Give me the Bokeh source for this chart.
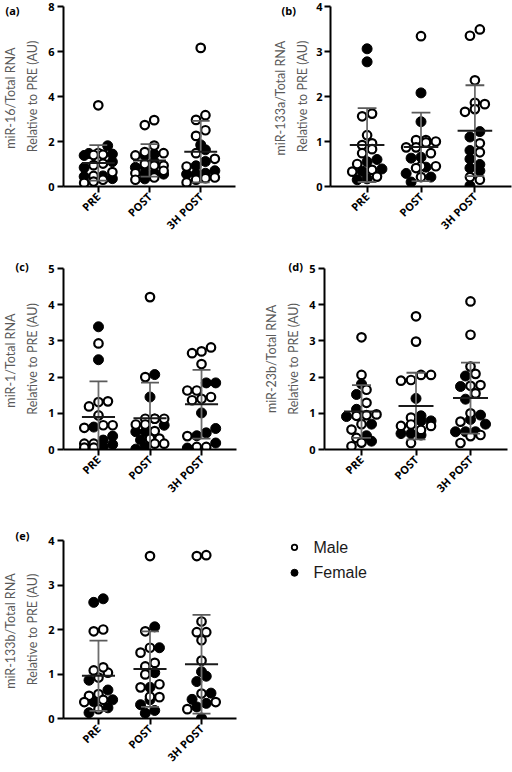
import math
import numpy as np
from bokeh.plotting import figure
from bokeh.layouts import column, row
from bokeh.models import Range1d, FixedTicker, Label
from bokeh.embed import file_html
from bokeh.resources import INLINE
from bokeh.core.properties import value

GROUPS = ["PRE", "POST", "3H POST"]

# (a) miR-16
A_PRE_MALE = [3.61, 1.49, 1.40, 1.42, 1.02, 0.95, 0.64, 0.47, 0.22, 0.30, 0.16]
A_PRE_FEMALE = [1.81, 1.44, 1.47, 1.38, 1.10, 0.84, 0.47, 0.44, 0.35]
A_POST_MALE = [2.95, 2.73, 1.82, 1.53, 1.48, 1.38, 1.00, 0.93, 0.93, 0.59, 0.70, 0.40, 0.30]
A_POST_FEMALE = [1.44, 1.38, 1.10, 0.89, 0.85, 0.59, 0.59, 0.55, 0.34]
A_3H_MALE = [6.16, 3.17, 2.96, 2.50, 2.25, 1.48, 1.23, 0.89, 0.37, 0.40, 0.18, 0.30]
A_3H_FEMALE = [1.85, 1.63, 1.11, 0.92, 0.59, 0.55, 0.55, 0.70]
A_MEAN = [1.05, 1.16, 1.55]
A_SD = [0.79, 0.72, 1.37]

# (b) miR-133a
B_PRE_MALE = [1.56, 1.62, 1.14, 0.96, 0.92, 0.83, 0.74, 0.50, 0.33, 0.37, 0.22]
B_PRE_FEMALE = [3.06, 2.77, 0.60, 0.55, 0.39, 0.34, 0.15, 0.17]
B_POST_MALE = [3.34, 1.00, 1.03, 1.03, 0.98, 0.87, 0.87, 0.74, 0.45, 0.45, 0.41, 0.21]
B_POST_FEMALE = [2.08, 1.44, 0.63, 0.65, 0.43, 0.29, 0.21, 0.10]
B_3H_MALE = [3.35, 3.49, 2.36, 1.83, 1.66, 1.86, 1.72, 0.96, 0.76, 0.21, 0.15]
B_3H_FEMALE = [1.22, 0.80, 1.10, 0.61, 0.41, 0.49, 0.02, 0.35]
B_MEAN = [0.92, 0.88, 1.24]
B_SD = [0.82, 0.76, 1.01]

# (c) miR-1
C_PRE_MALE = [2.93, 1.33, 1.31, 1.19, 0.94, 0.67, 0.67, 0.60, 0.16, 0.16, 0.05, 0.05]
C_PRE_FEMALE = [3.39, 2.48, 0.62, 0.37, 0.26, 0.14, 0.07]
C_POST_MALE = [4.21, 2.00, 0.85, 0.85, 0.85, 0.85, 0.69, 0.69, 0.51, 0.30, 0.30, 0.16, 0.16]
C_POST_FEMALE = [2.07, 1.45, 0.67, 0.49, 0.49, 0.26, 0.07, 0.01]
C_3H_MALE = [2.71, 2.66, 2.82, 2.36, 1.36, 1.40, 1.63, 1.63, 1.45, 0.37, 0.07, 0.07]
C_3H_FEMALE = [1.84, 1.84, 1.01, 0.58, 0.46, 0.38, 0.18, 0.04]
C_MEAN = [0.90, 0.86, 1.25]
C_SD = [0.98, 0.99, 0.95]

# (d) miR-23b
D_PRE_MALE = [3.10, 2.06, 1.65, 1.29, 0.95, 0.97, 0.93, 0.70, 0.55, 0.32, 0.19, 0.09]
D_PRE_FEMALE = [1.81, 1.52, 1.11, 0.91, 0.70, 0.38, 0.23]
D_POST_MALE = [3.68, 2.98, 2.06, 2.06, 1.90, 1.92, 0.88, 0.54, 0.69, 0.65, 0.65, 0.18]
D_POST_FEMALE = [1.41, 0.79, 0.93, 0.79, 0.44, 0.40, 0.44]
D_3H_MALE = [4.09, 3.17, 2.29, 2.09, 1.78, 1.76, 1.55, 1.00, 0.77, 0.40, 0.37, 0.18]
D_3H_FEMALE = [2.03, 1.74, 1.39, 0.70, 0.83, 0.95, 0.49, 0.49, 0.49]
D_MEAN = [1.05, 1.20, 1.42]
D_SD = [0.73, 0.92, 0.98]

# (e) miR-133b
E_PRE_MALE = [1.96, 2.00, 1.03, 1.15, 1.08, 0.92, 0.51, 0.55, 0.37, 0.42, 0.21]
E_PRE_FEMALE = [2.61, 2.69, 0.86, 0.64, 0.42, 0.38, 0.13, 0.24]
E_POST_MALE = [3.65, 1.96, 1.59, 1.48, 1.25, 1.17, 0.99, 0.77, 0.70, 0.48, 0.49]
E_POST_FEMALE = [2.06, 1.59, 1.03, 0.70, 0.31, 0.42, 0.18, 0.12]
E_3H_MALE = [3.65, 3.67, 2.18, 1.94, 1.94, 1.76, 1.30, 0.56, 0.37, 0.21]
E_3H_FEMALE = [1.05, 0.95, 0.83, 0.57, 0.34, 0.43, 0.26, 0.01]
E_MEAN = [0.96, 1.11, 1.22]
E_SD = [0.79, 0.85, 1.11]

YLABELS = [
    "miR-16/Total  RNA\nRelative to PRE (AU)",
    "miR-133a/Total  RNA\nRelative to PRE (AU)",
    "miR-1/Total  RNA\nRelative to PRE (AU)",
    "miR-23b/Total RNA\nRelative to PRE (AU)",
    "miR-133b/Total  RNA\nRelative to PRE (AU)",
]

LEGEND_LABELS = ["Male", "Female"]

# layout constants (pixels)
PX_PER_GROUP = 54.5
FRAME_W = 183
X0 = -37.0 / PX_PER_GROUP
X1 = X0 + FRAME_W / PX_PER_GROUP
DOT = 10.0
ROW_H = 8.0
ROW_MAX = 4


def row_offsets(vals, px_per_unit):
    """Column-scatter layout: close values share a row, centred on the group."""
    vals = np.asarray(vals, dtype=float)
    order = list(np.argsort(vals, kind="stable"))
    offs = np.zeros(len(vals))
    rows, cur = [], []
    for i in order:
        if cur and (len(cur) >= ROW_MAX or (vals[i] - vals[cur[0]]) * px_per_unit >= ROW_H):
            rows.append(cur)
            cur = []
        cur.append(i)
    if cur:
        rows.append(cur)
    for r in rows:
        n = len(r)
        for k, i in enumerate(r):
            offs[i] = (k - (n - 1) / 2.0) * DOT
    return offs


def panel(letter, letter_pos, letter_side, ylabel, ymax, males, females, means, sds,
          width, height, left, top, frame_h, label_standoff=5, tick_standoff=3):
    bottom = height - top - frame_h
    right = width - left - FRAME_W
    p = figure(width=width, height=height, output_backend="svg", toolbar_location=None,
               x_range=Range1d(X0, X1), y_range=Range1d(0, ymax),
               min_border_left=left, min_border_right=right,
               min_border_top=top, min_border_bottom=bottom)
    p.xgrid.visible = False
    p.ygrid.visible = False
    p.outline_line_color = None

    ky = frame_h / ymax
    mx, my, fx, fy = [], [], [], []
    for g, (mv, fv) in enumerate(zip(males, females)):
        vals = list(mv) + list(fv)
        offs = row_offsets(vals, ky) / PX_PER_GROUP + g
        mx += list(offs[:len(mv)])
        my += list(mv)
        fx += list(offs[len(mv):])
        fy += list(fv)

    p.scatter(x=fx, y=fy, marker="circle", size=10, fill_color="black",
              line_color="black", line_width=1)
    p.scatter(x=mx, y=my, marker="circle", size=8.5, fill_color="white",
              line_color="black", line_width=2.2)

    gx = np.arange(len(means), dtype=float)
    m = np.asarray(means)
    s = np.asarray(sds)
    lo = np.maximum(m - s, 0)
    hi = m + s
    cap = 9.5 / PX_PER_GROUP
    mean_half = 17.5 / PX_PER_GROUP
    p.segment(x0=gx, y0=lo, x1=gx, y1=hi, line_color="#6e6e6e", line_width=1.8)
    p.segment(x0=gx - cap, y0=hi, x1=gx + cap, y1=hi, line_color="#5a5a5a", line_width=1.8)
    p.segment(x0=gx - cap, y0=m - s, x1=gx + cap, y1=m - s, line_color="#5a5a5a", line_width=1.8)
    p.segment(x0=gx - mean_half, y0=m, x1=gx + mean_half, y1=m, line_color="#1a1a1a", line_width=2)

    for ax in (p.xaxis[0], p.yaxis[0]):
        ax.axis_line_width = 2
        ax.axis_line_color = "black"
        ax.major_tick_line_width = 2
        ax.major_tick_line_color = "black"
        ax.major_tick_out = 6
        ax.major_tick_in = 0
        ax.minor_tick_line_color = None
        ax.major_label_text_font = "Open Sans"
        ax.major_label_text_font_style = "bold"
        ax.major_label_text_font_size = "11px"
        ax.major_label_text_color = "black"

    p.xaxis.ticker = FixedTicker(ticks=[0, 1, 2])
    p.xaxis.major_label_overrides = {i: g for i, g in enumerate(GROUPS)}
    p.xaxis.major_label_orientation = math.pi / 4
    p.xaxis.major_label_standoff = 2

    step = 2 if ymax > 5 else 1
    p.yaxis.ticker = FixedTicker(ticks=list(range(0, ymax + 1, step)))
    p.yaxis.major_label_standoff = tick_standoff
    p.yaxis.axis_label = ylabel
    p.yaxis.axis_label_text_font = "Lato"
    p.yaxis.axis_label_text_font_style = "normal"
    p.yaxis.axis_label_text_font_size = "12.5px"
    p.yaxis.axis_label_text_color = "#595959"
    p.yaxis.axis_label_text_line_height = 1.45
    p.yaxis.axis_label_standoff = label_standoff

    # panel letter, held in a side panel with spare room so it is not clipped to the frame
    lx, ly = letter_pos
    if letter_side == "above":
        sx, sy = lx - left, top - ly
    elif letter_side == "right":
        sx, sy = lx - (left + FRAME_W), (top + frame_h) - ly
    else:  # "left": slot sits at the outer edge, beyond the y axis label
        sx, sy = lx - 2, (top + frame_h) - ly
    p.add_layout(Label(x=sx, y=sy, x_units="screen", y_units="screen",
                       text=letter, text_font="Open Sans", text_font_style="bold",
                       text_font_size="11px", text_baseline="middle", text_align="left",
                       text_color="black"), letter_side)
    return p


pa = panel("(a)", (5, 10), "right", YLABELS[0], 8,
           [A_PRE_MALE, A_POST_MALE, A_3H_MALE], [A_PRE_FEMALE, A_POST_FEMALE, A_3H_FEMALE],
           A_MEAN, A_SD, 256, 250, 52, 6, 180)
pb = panel("(b)", (27, 10), "left", YLABELS[1], 4,
           [B_PRE_MALE, B_POST_MALE, B_3H_MALE], [B_PRE_FEMALE, B_POST_FEMALE, B_3H_FEMALE],
           B_MEAN, B_SD, 256, 250, 72, 6, 180, label_standoff=3, tick_standoff=2)
pc = panel("(c)", (5, 16), "above", YLABELS[2], 5,
           [C_PRE_MALE, C_POST_MALE, C_3H_MALE], [C_PRE_FEMALE, C_POST_FEMALE, C_3H_FEMALE],
           C_MEAN, C_SD, 256, 260, 53, 18, 181)
pd = panel("(d)", (32, 16), "above", YLABELS[3], 5,
           [D_PRE_MALE, D_POST_MALE, D_3H_MALE], [D_PRE_FEMALE, D_POST_FEMALE, D_3H_FEMALE],
           D_MEAN, D_SD, 256, 260, 68, 18, 181)
pe = panel("(e)", (5, 25), "above", YLABELS[4], 4,
           [E_PRE_MALE, E_POST_MALE, E_3H_MALE], [E_PRE_FEMALE, E_POST_FEMALE, E_3H_FEMALE],
           E_MEAN, E_SD, 256, 262, 53, 30, 182)

# legend panel: its frame lines up with panel (e), ranges are in local pixels
LEG_TOP, LEG_FRAME_H = 30, 182
pl = figure(width=256, height=262, output_backend="svg", toolbar_location=None,
            x_range=Range1d(0, 256), y_range=Range1d(LEG_TOP + LEG_FRAME_H, LEG_TOP),
            x_axis_type=None, y_axis_type=None,
            min_border_left=0, min_border_right=0,
            min_border_top=LEG_TOP, min_border_bottom=262 - LEG_TOP - LEG_FRAME_H)
pl.xgrid.visible = False
pl.ygrid.visible = False
pl.outline_line_color = None
leg_y = [37, 63]
pl.scatter(x=[38], y=[leg_y[0]], marker="circle", size=5.5, fill_color="white",
           line_color="black", line_width=1.8)
pl.scatter(x=[38], y=[leg_y[1]], marker="circle", size=7, fill_color="black",
           line_color="black", line_width=1)
pl.text(x=[57, 57], y=leg_y, text=LEGEND_LABELS, text_font=value("Liberation Sans"),
        text_font_size="16px", text_baseline="middle", text_align="left", text_color="#1a1a1a")

layout = column(row(pa, pb), row(pc, pd), row(pe, pl))

html = file_html(layout, INLINE)
open("out.html", "w").write(html)
